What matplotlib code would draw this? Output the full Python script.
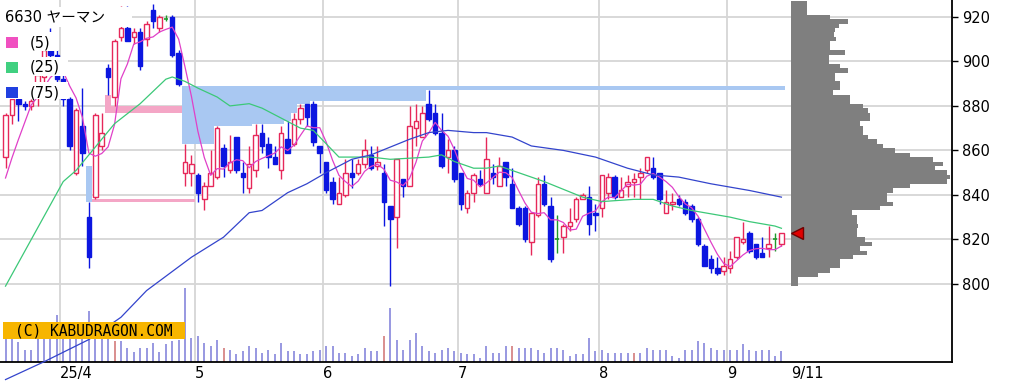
import numpy as np
import pandas as pd
import matplotlib
matplotlib.use("Agg")
import matplotlib.pyplot as plt
from matplotlib.patches import Rectangle

# daily prices 2025/3/19 .. 2025/9/11 (yen)
opens = [857, 876, 883, 881, 880, 885, 893, 912, 903, 892, 883, 850, 871, 830, 839, 862,
         897, 884, 911, 915, 911, 913, 910, 923, 915, 919, 920, 904, 850, 850, 849, 838,
         844, 848, 861, 851, 866, 850, 843, 851, 868, 863, 857, 851, 865, 863, 874, 881,
         881, 862, 855, 846, 836, 840, 850, 850, 854, 858, 853, 850, 835, 830, 847, 844,
         870, 866, 881, 877, 868, 857, 860, 850, 834, 841, 847, 841, 850, 844, 855, 845,
         834, 834, 819, 831, 845, 835, 820, 821, 826, 829, 838, 839, 832, 834, 841, 848,
         839, 844, 846, 848, 851, 852, 850, 832, 836, 838, 837, 835, 829, 817, 811, 807,
         806, 807, 812, 819, 823, 818, 814, 816, 820, 818]
highs = [877, 884, 883, 882, 883, 896, 907, 915, 905, 894, 884, 879, 888, 837, 877, 877,
         899, 910, 925, 925, 915, 915, 918, 926, 921, 921, 921, 905, 863, 858, 850, 846,
         860, 871, 863, 867, 866, 855, 862, 872, 872, 866, 862, 871, 873, 877, 881, 881,
         882, 862, 855, 848, 848, 856, 856, 856, 865, 862, 862, 854, 835, 856, 847, 880,
         881, 880, 887, 881, 877, 865, 862, 850, 842, 850, 851, 866, 854, 857, 855, 852,
         835, 835, 832, 848, 849, 839, 831, 827, 834, 839, 841, 844, 836, 849, 850, 849,
         848, 849, 850, 852, 857, 857, 850, 842, 841, 840, 838, 836, 830, 818, 813, 812,
         812, 815, 821, 828, 824, 818, 821, 826, 823, 823]
lows = [852, 872, 873, 878, 878, 880, 889, 901, 889, 880, 860, 849, 853, 807, 838, 860,
        885, 880, 909, 909, 908, 896, 907, 915, 913, 918, 902, 889, 844, 844, 837, 833,
        844, 847, 848, 850, 850, 841, 841, 848, 859, 852, 854, 847, 859, 862, 872, 871,
        862, 850, 841, 836, 836, 839, 843, 849, 852, 851, 851, 826, 799, 816, 839, 844,
        862, 866, 873, 867, 852, 850, 846, 833, 832, 837, 844, 841, 845, 844, 844, 834,
        826, 819, 813, 830, 835, 810, 814, 814, 824, 828, 838, 822, 824, 830, 838, 838,
        839, 839, 839, 838, 850, 847, 836, 832, 833, 835, 831, 828, 817, 808, 805, 804,
        804, 805, 811, 818, 814, 811, 812, 812, 815, 817]
closes = [876, 883, 881, 880, 882, 894, 905, 903, 892, 883, 862, 878, 859, 812, 876, 868,
          893, 909, 915, 909, 913, 898, 917, 918, 920, 919, 903, 890, 855, 854, 841, 844,
          850, 870, 853, 855, 851, 848, 854, 867, 862, 857, 854, 868, 859, 874, 879, 875,
          864, 859, 842, 838, 841, 850, 848, 854, 860, 852, 855, 837, 829, 856, 844, 871,
          873, 877, 874, 868, 853, 860, 847, 836, 841, 849, 845, 856, 848, 853, 848, 834,
          827, 820, 832, 845, 836, 811, 820, 826, 828, 838, 840, 827, 831, 849, 848, 839,
          842, 846, 847, 850, 857, 848, 838, 837, 837, 836, 832, 829, 818, 808, 807, 805,
          808, 811, 821, 820, 815, 812, 812, 818, 820, 823]
# closes of the four days before the window (for the 5 day average)
pre_closes = [838, 840, 841, 843]

# volume (thousand shares)
volume = [320, 300, 200, 124, 124, 280, 300, 340, 467, 300, 330, 280, 300, 510, 360, 280,
          300, 210, 210, 144, 100, 144, 144, 190, 100, 177, 210, 224, 740, 240, 257, 190,
          157, 224, 144, 124, 77, 110, 157, 144, 94, 124, 77, 190, 110, 110, 77, 77,
          110, 124, 157, 157, 94, 94, 60, 77, 144, 110, 110, 257, 544, 224, 124, 224,
          290, 157, 110, 94, 124, 144, 110, 94, 77, 77, 44, 157, 94, 94, 157, 157,
          144, 144, 144, 124, 90, 144, 144, 124, 60, 77, 77, 240, 110, 124, 94, 94,
          94, 94, 94, 94, 144, 124, 124, 124, 60, 44, 124, 124, 210, 190, 144, 124,
          124, 124, 124, 177, 124, 110, 124, 124, 60, 110]
red_volume_days = [17, 34, 59, 79, 98]

# 25 day and 75 day averages (day index, yen)
ma25_days = [0, 9, 11, 15, 17, 21, 25, 26, 28, 30, 33, 35, 38, 40, 44, 46, 48, 50, 52,
             57, 60, 66, 68, 70, 73, 75, 77, 79, 84, 90, 93, 98, 101, 104, 107, 113,
             116, 120, 121]
ma25_vals = [799, 846, 851, 865, 872, 881, 892, 893, 891, 888, 884, 880, 881, 879, 873,
             870, 869, 863, 857, 857, 856, 857, 858, 855, 852, 852, 853, 851, 846, 839,
             837, 838, 838, 835, 833, 830, 828, 826, 825]
ma75_days = [0, 6, 13, 18, 22, 29, 34, 38, 40, 44, 47, 50, 54, 57, 63, 66, 69, 73, 75,
             79, 82, 87, 92, 97, 101, 105, 110, 116, 121]
ma75_vals = [757, 765, 775, 785, 797, 812, 821, 832, 833, 841, 845, 850, 856, 858, 865,
             868, 869, 868, 868, 866, 862, 860, 857, 852, 849, 848, 845, 842, 839]

# price-by-volume profile, 2 yen bins
profile_prices = list(range(800, 927, 2))
profile_vol = [7, 7, 27, 39, 49, 49, 62, 76, 69, 81, 74, 66, 66, 67, 66, 66, 61, 89, 102,
               96, 96, 102, 119, 156, 159, 156, 144, 152, 142, 119, 104, 92, 86, 77, 72,
               72, 69, 79, 79, 77, 72, 59, 59, 42, 49, 49, 44, 44, 57, 49, 38, 38, 54, 39,
               39, 45, 43, 44, 48, 57, 39, 16, 16, 16]

# first trading day of each month and its label
month_days = [9, 30, 50, 71, 93, 113]
month_labels = ["25/4", "5", "6", "7", "8", "9"]
last_label = "9/11"

UP = "#e6285a"
DOWN = "#0c16e0"
EVEN = "#1f9a2a"


def gap_zones(highs, lows):
    """
    Finds price windows and follows each one until it is filled
    :return: (list) tuples of (day, bottom, top, kind)
    """
    zones = []
    n = len(highs)
    for i in range(1, n):
        if highs[i] < lows[i - 1]:
            bottom, top = highs[i], lows[i - 1]
            for j in range(i, n):
                bottom = max(bottom, highs[j]) if j > i else bottom
                if bottom >= top:
                    break
                zones.append((j, bottom, top, "down"))
        elif lows[i] > highs[i - 1]:
            bottom, top = highs[i - 1], lows[i]
            for j in range(i, n):
                top = min(top, lows[j]) if j > i else top
                if top <= bottom:
                    break
                zones.append((j, bottom, top, "up"))
    return zones


def fx(x):
    return x / 1011


def fy(y):
    return 1 - y / 387


fig = plt.figure(figsize=(10.11, 3.87), dpi=100)
rect = [0, 25 / 387, 952 / 1011, 362 / 387]
axv = fig.add_axes(rect)
ax = fig.add_axes(rect, sharex=axv)
axv.set_zorder(0)
ax.set_zorder(1)
ax.patch.set_visible(False)

days = np.arange(len(closes))
n = len(closes)

# volume bars at the bottom
vcolors = ["#d07070" if d in red_volume_days else "#7c7cd8" for d in days]
axv.vlines(days, 0, volume, colors=vcolors, linewidth=1.1)
axv.set_ylim(0, max(volume) * 362 / 74)
axv.axis("off")

ax.set_xlim(-0.86, 147.6)
ax.set_ylim(764.9, 927.6)

# grid
for p in range(800, 921, 20):
    ax.axhline(p, color="#d6d6d6", linewidth=1.3, zorder=1.5)
for d in month_days:
    ax.axvline(d - 0.5, color="#d6d6d6", linewidth=1.3, zorder=1.5)

# price windows
for day, bottom, top, kind in gap_zones(highs, lows):
    col = "#a9c8f2" if kind == "down" else "#f4a6c6"
    ax.bar(day, top - bottom, bottom=bottom, width=1.0, color=col, linewidth=0, zorder=2)

# volume profile as one solid stepped shape
pw = np.array(profile_vol) / max(profile_vol) * 24.8
ys = np.repeat(profile_prices, 2) + np.tile([-1, 1], len(profile_prices))
xs = np.repeat(pw, 2)
ax.fill_betweenx(ys, n + 0.5, n + 0.5 + xs, color="#7f7f7f", linewidth=0, zorder=1.8)

# candles
for i in days:
    o, h, l, c = opens[i], highs[i], lows[i], closes[i]
    if c > o:
        col = UP
    elif c < o:
        col = DOWN
    else:
        col = EVEN
    ax.vlines(i, l, h, color=col, linewidth=1.0, zorder=3)
    if c == o:
        ax.hlines(c, i - 0.35, i + 0.35, color=col, linewidth=1.2, zorder=4)
    else:
        face = "white" if c > o else col
        ax.bar(i, abs(c - o), bottom=min(o, c), width=0.7, facecolor=face,
               edgecolor=col, linewidth=1.0, zorder=4)

# moving averages
ma5 = pd.Series(pre_closes + closes).rolling(5).mean().to_numpy()[4:]
ax.plot(days, ma5, color="#e040c8", linewidth=0.9, zorder=5)
ax.plot(ma25_days, ma25_vals, color="#3cc878", linewidth=0.9, zorder=5)
ax.plot(ma75_days, ma75_vals, color="#3344cc", linewidth=0.9, zorder=5, clip_on=False)

# latest close marker
ax.plot(n + 1.4, closes[-1], marker="<", markersize=9, color="#e00000",
        markeredgecolor="#700000", zorder=6, clip_on=False)

# axes
ax.yaxis.tick_right()
ax.set_yticks(range(800, 921, 20))
ax.tick_params(axis="y", direction="out", length=4, width=1, labelsize=10.5, pad=3)
xt = [d - 0.5 for d in month_days] + [n + 0.5]
ax.set_xticks(xt, month_labels + [last_label])
for lab in ax.get_xticklabels():
    lab.set_horizontalalignment("left")
ax.tick_params(axis="x", length=0, labelsize=10.5, pad=3)
for s in ["left", "top"]:
    ax.spines[s].set_visible(False)
for s in ["right", "bottom"]:
    ax.spines[s].set_color("black")
    ax.spines[s].set_linewidth(1.3)

# legend with white backgrounds
for (x0, y0, x1, y1) in [(0, 7, 132, 27), (0, 32, 58, 51), (0, 57, 68, 76), (0, 82, 68, 99)]:
    fig.add_artist(Rectangle((fx(x0), fy(y1)), fx(x1 - x0), (y1 - y0) / 387,
                             transform=fig.transFigure, facecolor="white",
                             edgecolor="none", zorder=10))
fig.text(fx(5), fy(17), "6630 ヤーマン", ha="left", va="center", fontsize=10.5,
         family=["DejaVu Sans", "Noto Sans CJK JP"], zorder=11)
for yc, col, lab in [(42.5, "#f050c0", "(5)"), (67.5, "#40d080", "(25)"), (92.5, "#2040e0", "(75)")]:
    fig.add_artist(Rectangle((fx(6), fy(yc + 5.5)), fx(12), 11 / 387, transform=fig.transFigure,
                             facecolor=col, edgecolor="none", zorder=11))
    fig.text(fx(30), fy(yc), lab, ha="left", va="center", fontsize=10.5, zorder=11)

# watermark
fig.add_artist(Rectangle((fx(3), fy(339)), fx(182), 17 / 387, transform=fig.transFigure,
                         facecolor="#f7b500", edgecolor="none", zorder=10))
fig.text(fx(94), fy(330.5), "(C) KABUDRAGON.COM", ha="center", va="center",
         family="DejaVu Sans Mono", fontsize=10.5, zorder=11)

fig.savefig("out.png", dpi=100)
